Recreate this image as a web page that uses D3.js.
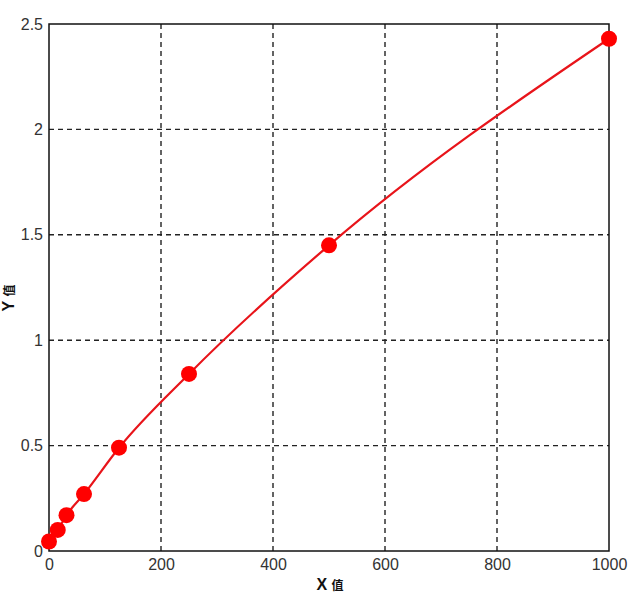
<!DOCTYPE html>
<html>
<head>
<meta charset="utf-8">
<script src="https://cdn.jsdelivr.net/npm/d3@7"></script>
<style>
body { margin: 0; background: #fff; }
text { font-family: "Liberation Sans", Arial, sans-serif; }
</style>
</head>
<body>
<script>
// data
var xValues = [0, 15.6, 31.25, 62.5, 125, 250, 500, 1000]
var yValues = [0.045, 0.10, 0.17, 0.27, 0.49, 0.84, 1.45, 2.43]
var xTicks = [0, 200, 400, 600, 800, 1000]
var yTicks = [0, 0.5, 1, 1.5, 2, 2.5]

var width = 642, height = 601
var margin = {top: 24, right: 33, bottom: 50, left: 49}
var w = width - margin.left - margin.right
var h = height - margin.top - margin.bottom

var svg = d3.select("body").append("svg")
    .attr("width", width).attr("height", height)
var g = svg.append("g")
    .attr("transform", "translate(" + margin.left + "," + margin.top + ")")

var x = d3.scaleLinear().domain([0, 1000]).range([0, w])
var y = d3.scaleLinear().domain([0, 2.5]).range([h, 0])

// grid
g.append("g").selectAll("line").data(xTicks.slice(1, -1)).join("line")
    .attr("x1", d => x(d)).attr("x2", d => x(d))
    .attr("y1", 0).attr("y2", h)
    .attr("stroke", "#222").attr("stroke-width", 1.4).attr("stroke-dasharray", "5,4")
g.append("g").selectAll("line").data(yTicks.slice(1, -1)).join("line")
    .attr("y1", d => y(d)).attr("y2", d => y(d))
    .attr("x1", 0).attr("x2", w)
    .attr("stroke", "#222").attr("stroke-width", 1.4).attr("stroke-dasharray", "5,4")

// axes (labels only)
g.append("g").attr("transform", "translate(0," + h + ")")
    .call(d3.axisBottom(x).tickValues(xTicks).tickSize(0).tickPadding(8).tickFormat(d3.format("d")))
g.append("g")
    .call(d3.axisLeft(y).tickValues(yTicks).tickSize(0).tickPadding(6).tickFormat(d => String(d)))
svg.selectAll(".domain").remove()
svg.selectAll(".tick text").attr("font-size", 16).attr("fill", "#333")
    .style("font-family", "Liberation Sans, Arial, sans-serif")

// frame
g.append("rect").attr("width", w).attr("height", h)
    .attr("fill", "none").attr("stroke", "#111").attr("stroke-width", 1.5)

var pts = xValues.map((v, i) => [v, yValues[i]])

g.append("path").datum(pts)
    .attr("fill", "none").attr("stroke", "#e8141a").attr("stroke-width", 2.2)
    .attr("d", d3.line().x(d => x(d[0])).y(d => y(d[1])).curve(d3.curveMonotoneX))

g.append("g").selectAll("circle").data(pts).join("circle")
    .attr("cx", d => x(d[0])).attr("cy", d => y(d[1])).attr("r", 8)
    .attr("fill", "#ff0000")

// axis titles
var xt = svg.append("text").attr("x", 330).attr("y", 590).attr("text-anchor", "middle")
    .attr("font-weight", "bold").attr("font-size", 16).attr("fill", "#111")
xt.append("tspan").text("X ")
xt.append("tspan").attr("font-size", 12).style("font-family", "Noto Sans CJK SC").text("值")

var yt = svg.append("text").attr("transform", "translate(14,298) rotate(-90)")
    .attr("text-anchor", "middle").attr("font-weight", "bold").attr("font-size", 16).attr("fill", "#111")
yt.append("tspan").text("Y ")
yt.append("tspan").attr("font-size", 12).style("font-family", "Noto Sans CJK SC").text("值")
</script>
</body>
</html>
